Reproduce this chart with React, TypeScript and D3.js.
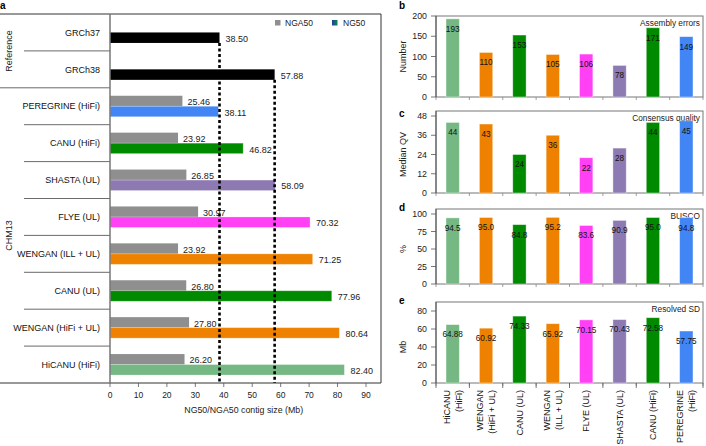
import React from "react";
import * as d3 from "d3";

const rowLabels = ["GRCh37", "GRCh38", "PEREGRINE (HiFi)", "CANU (HiFi)", "SHASTA (UL)", "FLYE (UL)", "WENGAN (ILL + UL)", "CANU (UL)", "WENGAN (HiFi + UL)", "HiCANU (HiFi)"];
const nga50 = [null, null, 25.46, 23.92, 26.85, 30.97, 23.92, 26.8, 27.8, 26.2];
const ng50 = [38.5, 57.88, 38.11, 46.82, 58.09, 70.32, 71.25, 77.96, 80.64, 82.4];
const rowColors = ["#000000", "#000000", "#4285f4", "#008a00", "#8e7ab2", "#ff40f5", "#ee8200", "#008a00", "#ee8200", "#76b883"];
const xTicksA = [0, 10, 20, 30, 40, 50, 60, 70, 80, 90];

const cats = ["HiCANU (HiFi)", "WENGAN (HiFi + UL)", "CANU (UL)", "WENGAN (ILL + UL)", "FLYE (UL)", "SHASTA (UL)", "CANU (HiFi)", "PEREGRINE (HiFi)"];
const catLines = [["HiCANU", "(HiFi)"], ["WENGAN", "(HiFi + UL)"], ["CANU (UL)"], ["WENGAN", "(ILL + UL)"], ["FLYE (UL)"], ["SHASTA (UL)"], ["CANU (HiFi)"], ["PEREGRINE", "(HiFi)"]];
const catColors = ["#76b883", "#ee8200", "#008a00", "#ee8200", "#ff40f5", "#8e7ab2", "#008a00", "#4285f4"];
const errors = [193, 110, 153, 105, 106, 78, 171, 149];
const qv = [44, 43, 24, 36, 22, 28, 44, 45];
const busco = [94.5, 95.0, 84.8, 95.2, 83.6, 90.9, 95.0, 94.8];
const sd = [64.88, 60.92, 74.33, 65.92, 70.15, 70.43, 72.58, 57.75];

const FONT = "'Liberation Sans', Arial, sans-serif";

type Panel = {
  letter: string; title: string; yLabel: string; values: number[]; fmt: (v: number) => string;
  ticks: number[]; max: number; frameTop: number; yTop: number; yBottom: number; letterY: number;
};

const panels: Panel[] = [
  { letter: "b", title: "Assembly errors", yLabel: "Number", values: errors, fmt: (v) => String(v), ticks: [0, 50, 100, 150, 200], max: 200, frameTop: 16, yTop: 16, yBottom: 97, letterY: 9 },
  { letter: "c", title: "Consensus quality", yLabel: "Median QV", values: qv, fmt: (v) => String(v), ticks: [0, 12, 24, 36, 48], max: 48, frameTop: 111, yTop: 116, yBottom: 193, letterY: 117 },
  { letter: "d", title: "BUSCO", yLabel: "%", values: busco, fmt: (v) => v.toFixed(1), ticks: [0, 25, 50, 75, 100], max: 100, frameTop: 209, yTop: 214, yBottom: 284, letterY: 211 },
  { letter: "e", title: "Resolved SD", yLabel: "Mb", values: sd, fmt: (v) => v.toFixed(2), ticks: [0, 20, 40, 60, 80], max: 80, frameTop: 302, yTop: 311, yBottom: 383, letterY: 304 },
];

export default function App() {
  // Panel a
  const x = d3.scaleLinear().domain([0, 90]).range([110, 366]);
  const rowBand = d3.scaleBand<number>().domain(d3.range(rowLabels.length)).range([14, 383]);
  const rowH = rowBand.bandwidth();
  const barH = 10.5;

  // Panels b-e
  const bx = d3.scaleBand<number>().domain(d3.range(cats.length)).range([436, 703]).paddingInner(0.6).paddingOuter(0.3);
  const bandStep = bx.step();

  return (
    <svg width={706} height={446} style={{ position: "absolute", left: 0, top: 0, background: "#fff" }} fontFamily={FONT}>
      <defs>
        <linearGradient id="ng50grad" x1="0" x2="1" y1="0" y2="0">
          <stop offset="0" stopColor="#1f3f9e" />
          <stop offset="1" stopColor="#0b8a4c" />
        </linearGradient>
      </defs>
      {/* Panel a */}
      <text x={0} y={9} fontSize={10} fontWeight="bold">a</text>
      <line x1={0} x2={381} y1={14} y2={14} stroke="#333" strokeWidth={1} />
      <line x1={381} x2={381} y1={14} y2={383} stroke="#333" strokeWidth={1} />
      <line x1={0} x2={381} y1={383} y2={383} stroke="#333" strokeWidth={1} />
      {rowLabels.map((lab, i) => {
        const y0 = rowBand(i)!;
        const cy = y0 + rowH / 2;
        return (
          <g key={lab}>
            {i > 0 && <line x1={i === 2 ? 0 : 24} x2={110} y1={y0} y2={y0} stroke="#444" strokeWidth={0.8} />}
            <text x={100} y={cy} dy="0.35em" fontSize={9} textAnchor="end" fill="#111">{lab}</text>
            {nga50[i] != null && (
              <g>
                <rect x={x(0)} y={cy - barH} width={x(nga50[i] as number) - x(0)} height={barH} fill="#8f8f8f" />
                <text x={x(nga50[i] as number) + 5} y={cy - barH / 2 + 1} dy="0.35em" fontSize={9} fill="#222">{(nga50[i] as number).toFixed(2)}</text>
              </g>
            )}
            <rect x={x(0)} y={cy} width={x(ng50[i]) - x(0)} height={barH} fill={rowColors[i]} stroke={i >= 2 ? "rgba(255,255,255,0.35)" : "none"} strokeWidth={0.8} />
            <text x={x(ng50[i]) + 6} y={cy + barH / 2 + 1} dy="0.35em" fontSize={9} fill="#222">{ng50[i].toFixed(2)}</text>
          </g>
        );
      })}
      <text transform={`translate(9,${(rowBand(0)! + rowBand(2)!) / 2}) rotate(-90)`} textAnchor="middle" fontSize={9} dy="0.35em" fill="#222">Reference</text>
      <text transform={`translate(9,${(rowBand(2)! + 383) / 2}) rotate(-90)`} textAnchor="middle" fontSize={9} dy="0.35em" fill="#222">CHM13</text>
      {/* dotted reference lines */}
      <line x1={x(ng50[0])} x2={x(ng50[0])} y1={rowBand(0)! + rowH / 2 + barH} y2={383} stroke="#000" strokeWidth={2.6} strokeDasharray="3,2.5" />
      <line x1={x(ng50[1])} x2={x(ng50[1])} y1={rowBand(1)! + rowH / 2 + barH} y2={383} stroke="#000" strokeWidth={2.6} strokeDasharray="3,2.5" />
      <line x1={110} x2={110} y1={14} y2={383} stroke="#777" strokeWidth={1.5} />
      {xTicksA.map((t) => (
        <g key={t}>
          <line x1={x(t)} x2={x(t)} y1={383} y2={387} stroke="#555" strokeWidth={0.8} />
          <text x={x(t)} y={395} dy="0.35em" textAnchor="middle" fontSize={8.5} fill="#222">{t}</text>
        </g>
      ))}
      <text x={x(47)} y={410} dy="0.35em" textAnchor="middle" fontSize={8.8} fill="#222">NG50/NGA50 contig size (Mb)</text>
      {/* legend */}
      <rect x={275} y={20} width={5.5} height={5.5} fill="#8f8f8f" />
      <text x={285} y={23} dy="0.35em" fontSize={8.5} fill="#222">NGA50</text>
      <rect x={332} y={20} width={5.5} height={5.5} fill="url(#ng50grad)" />
      <text x={343} y={23} dy="0.35em" fontSize={8.5} fill="#222">NG50</text>

      {/* Panels b-e */}
      {panels.map((p) => {
        const y = d3.scaleLinear().domain([0, p.max]).range([p.yBottom, p.yTop]);
        return (
          <g key={p.letter}>
            <text x={399} y={p.letterY} fontSize={10} fontWeight="bold">{p.letter}</text>
            <rect x={436} y={p.frameTop} width={267} height={p.yBottom - p.frameTop} fill="none" stroke="#777" strokeWidth={1} />
            <line x1={436} x2={436} y1={p.frameTop} y2={p.yBottom} stroke="#555" strokeWidth={1} />
            <text x={700} y={p.frameTop + 7} dy="0.35em" textAnchor="end" fontSize={8.3} fill="#222">{p.title}</text>
            {p.ticks.map((t) => (
              <g key={t}>
                <line x1={431} x2={436} y1={y(t)} y2={y(t)} stroke="#555" strokeWidth={0.8} />
                <text x={427} y={y(t)} dy="0.35em" textAnchor="end" fontSize={8.8} fill="#222">{t}</text>
              </g>
            ))}
            <text transform={`translate(403,${(p.yTop + p.yBottom) / 2}) rotate(-90)`} textAnchor="middle" dy="0.35em" fontSize={9} fill="#222">{p.yLabel}</text>
            {d3.range(cats.length + 1).map((k) => (
              <line key={k} x1={436 + k * bandStep} x2={436 + k * bandStep} y1={p.yBottom} y2={p.yBottom + 3} stroke="#888" strokeWidth={0.8} />
            ))}
            {p.values.map((v, i) => (
              <g key={i}>
                <rect x={bx(i)!} y={y(v)} width={bx.bandwidth()} height={p.yBottom - y(v)} fill={catColors[i]} stroke="rgba(255,255,255,0.5)" strokeWidth={0.8} />
                <text x={bx(i)! + bx.bandwidth() / 2} y={y(v) + 10} dy="0.35em" textAnchor="middle" fontSize={8.2} fill="#111">{p.fmt(v)}</text>
              </g>
            ))}
          </g>
        );
      })}
      {d3.range(cats.length + 1).map((k) => (
        <line key={k} x1={436 + k * bandStep} x2={436 + k * bandStep} y1={383} y2={388} stroke="#555" strokeWidth={0.8} />
      ))}
      {catLines.map((lines, i) => {
        const cx = bx(i)! + bx.bandwidth() / 2;
        return lines.map((ln, j) => {
          const off = lines.length === 1 ? 0 : (j === 0 ? -6 : 6);
          return (
            <text key={`${i}-${j}`} transform={`translate(${cx + off},390) rotate(-90)`} textAnchor="end" dy="0.35em" fontSize={9} fill="#111">{ln}</text>
          );
        });
      })}
    </svg>
  );
}
